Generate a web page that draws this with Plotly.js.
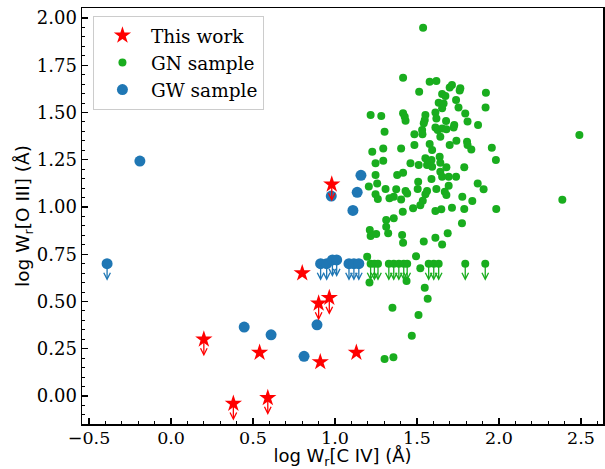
<!DOCTYPE html>
<html>
<head>
<meta charset="utf-8">
<script src="https://cdn.plot.ly/plotly-3.0.1.min.js"></script>
<style>html,body{margin:0;padding:0;background:#fff;}#chart{width:605px;height:469px;}</style>
</head>
<body>
<div id="chart"></div>
<script>
// ---- This work (red stars); UL = upper limit (down arrow)
const starX  = [0.54, 0.80, 0.91, 1.13, 0.20, 0.38, 0.59, 0.90, 0.965, 0.98];
const starY  = [0.23, 0.65, 0.18, 0.23, 0.30, -0.04, -0.01, 0.49, 0.52, 1.12];
const starUL = [false, false, false, false, true, true, true, true, true, true];

// ---- GN sample (green)
const gnX = [1.415,1.577,1.618,1.699,1.713,1.764,1.760,1.513,1.653,1.673,1.920,1.738,1.632,1.662,1.653,1.753,1.918,
  1.217,1.282,1.415,1.425,1.430,1.551,1.547,1.541,1.612,1.618,1.677,1.794,1.808,1.872,1.727,1.723,1.612,1.626,1.653,1.679,
  1.302,1.531,1.533,1.484,1.642,1.740,1.805,1.808,1.831,1.956,1.981,1.699,1.577,1.592,1.484,1.403,1.294,1.227,1.294,1.247,
  1.460,1.510,1.551,1.588,1.638,1.642,1.679,1.788,1.592,1.561,1.537,2.490,2.386,
  1.247,1.257,1.206,1.247,1.261,1.308,1.332,1.358,1.373,1.403,1.379,1.415,1.430,1.440,1.507,1.504,1.561,1.551,1.588,
  1.642,1.653,1.693,1.738,1.618,1.669,1.679,1.693,1.870,1.906,1.776,1.837,1.983,1.774,1.788,1.713,1.648,1.612,1.535,
  1.520,1.476,1.413,1.358,1.312,1.312,1.324,1.212,1.217,1.251,1.409,1.415,1.541,1.612,1.653,1.687,1.494,1.196,
  1.210,1.436,1.520,1.547,1.565,1.350,1.509,1.468,1.356,1.302,
  1.217,1.240,1.262,1.328,1.358,1.389,1.419,1.440,1.571,1.602,1.632,1.794,1.916];
const gnY = [1.684,1.663,1.667,1.633,1.646,1.628,1.616,1.610,1.598,1.587,1.605,1.566,1.552,1.548,1.522,1.527,1.527,
  1.487,1.481,1.496,1.478,1.457,1.487,1.460,1.443,1.500,1.469,1.455,1.495,1.452,1.434,1.434,1.421,1.421,1.407,1.416,1.411,
  1.398,1.407,1.385,1.385,1.372,1.351,1.346,1.328,1.305,1.314,1.249,1.328,1.333,1.302,1.328,1.310,1.310,1.293,1.245,1.231,
  1.231,1.222,1.258,1.249,1.266,1.234,1.210,1.210,1.213,1.222,1.949,1.381,1.039,
  1.169,1.125,1.108,1.067,1.042,1.095,1.046,1.055,1.094,1.040,1.169,1.181,1.085,1.072,1.134,1.095,1.085,1.067,1.148,
  1.187,1.160,1.160,1.160,1.095,1.081,1.063,1.113,1.125,1.094,1.055,1.032,0.989,0.914,0.989,0.996,0.988,0.979,1.033,
  1.010,0.993,0.975,0.940,0.931,0.896,0.861,0.878,0.847,0.857,0.852,0.811,0.817,0.838,0.802,0.861,0.740,0.737,
  0.600,0.608,0.676,0.573,0.515,0.467,0.429,0.319,0.205,0.196,
  0.70,0.70,0.70,0.70,0.70,0.70,0.70,0.70,0.70,0.70,0.70,0.70,0.70];
const gnULcount = 13; // last 13 GN points are upper limits

// ---- GW sample (blue)
const gwX  = [-0.19, 0.446, 0.61, 0.811, 0.89, 0.977, 1.109, 1.135, 1.158,
  -0.39, 0.912, 0.949, 0.984, 1.010, 1.085, 1.115, 1.145];
const gwY  = [1.243, 0.365, 0.324, 0.21, 0.377, 1.058, 0.982, 1.078, 1.168,
  0.70, 0.70, 0.70, 0.72, 0.72, 0.70, 0.70, 0.70];
const gwUL = [false,false,false,false,false,false,false,false,false,
  true,true,true,true,true,true,true,true];

const xTickVals = [-0.5, 0.0, 0.5, 1.0, 1.5, 2.0, 2.5];
const xTickText = ['\u22120.5','0.0','0.5','1.0','1.5','2.0','2.5'];
const yTickVals = [0.0, 0.25, 0.5, 0.75, 1.0, 1.25, 1.5, 1.75, 2.0];
const yTickText = ['0.00','0.25','0.50','0.75','1.00','1.25','1.50','1.75','2.00'];

const RED = '#ff0000', GREEN = '#19ad1e', BLUE = '#1f77b4';
const gnUL = gnX.map((_, i) => i >= gnX.length - gnULcount);

function arrows(xs, ys, flags, color) {
  const out = [];
  xs.forEach((x, i) => {
    if (!flags[i]) return;
    out.push({x: x, y: ys[i], xref: 'x', yref: 'y', text: '', showarrow: true,
      ax: 0, ay: -17, yshift: -17, arrowhead: 5, arrowsize: 1, arrowwidth: 1.3,
      arrowcolor: color, standoff: 0, startstandoff: 0});
  });
  return out;
}

const traces = [
  {x: gnX, y: gnY, type: 'scatter', mode: 'markers', name: 'GN sample',
   marker: {color: GREEN, size: 8, line: {width: 0}}, legendrank: 2},
  {x: gwX, y: gwY, type: 'scatter', mode: 'markers', name: 'GW sample',
   marker: {color: BLUE, size: 11, line: {width: 0}}, legendrank: 3},
  {x: starX, y: starY, type: 'scatter', mode: 'markers', name: 'This work',
   marker: {color: RED, size: 13, symbol: 'star', line: {width: 0}}, legendrank: 1}
];

const annotations = [].concat(
  arrows(gnX, gnY, gnUL, GREEN),
  arrows(gwX, gwY, gwUL, BLUE),
  arrows(starX, starY, starUL, RED)
);

const serif = 'DejaVu Serif, serif';
const sans = 'DejaVu Sans, sans-serif';

const layout = {
  width: 605, height: 469,
  margin: {l: 82, r: 2, t: 8, b: 45},
  paper_bgcolor: '#fff', plot_bgcolor: '#fff',
  showlegend: true,
  legend: {x: 0.021, y: 0.981, xanchor: 'left', yanchor: 'top',
    bgcolor: 'rgba(255,255,255,0.9)', bordercolor: '#cccccc', borderwidth: 1,
    font: {family: serif, size: 18.5, color: '#000'}, itemwidth: 47, tracegroupgap: 0},
  xaxis: {range: [-0.543, 2.634], tickmode: 'array', tickvals: xTickVals, ticktext: xTickText,
    ticks: 'inside', ticklen: 6, tickwidth: 1.2, tickcolor: '#000', ticklabelstandoff: -3,
    minor: {dtick: 0.1, tick0: 0, ticks: 'inside', ticklen: 3, tickwidth: 1, tickcolor: '#000'},
    showline: true, linecolor: '#000', linewidth: 1.5, mirror: true,
    showgrid: false, zeroline: false,
    tickfont: {family: serif, size: 17.5, color: '#000'},
    title: {text: 'log W<sub>r</sub>[C IV] (Å)', font: {family: sans, size: 18, color: '#000'}, standoff: 15}},
  yaxis: {range: [-0.148, 2.053], tickmode: 'array', tickvals: yTickVals, ticktext: yTickText,
    ticks: 'inside', ticklen: 6, tickwidth: 1.2, tickcolor: '#000',
    minor: {dtick: 0.05, tick0: 0, ticks: 'inside', ticklen: 3, tickwidth: 1, tickcolor: '#000'},
    showline: true, linecolor: '#000', linewidth: 1.5, mirror: true,
    showgrid: false, zeroline: false,
    tickfont: {family: serif, size: 18, color: '#000'},
    title: {text: 'log W<sub>r</sub>[O III] (Å)', font: {family: sans, size: 18.5, color: '#000'}, standoff: 2}},
  annotations: annotations
};

Plotly.newPlot('chart', traces, layout, {displayModeBar: false, staticPlot: true});
</script>
</body>
</html>
